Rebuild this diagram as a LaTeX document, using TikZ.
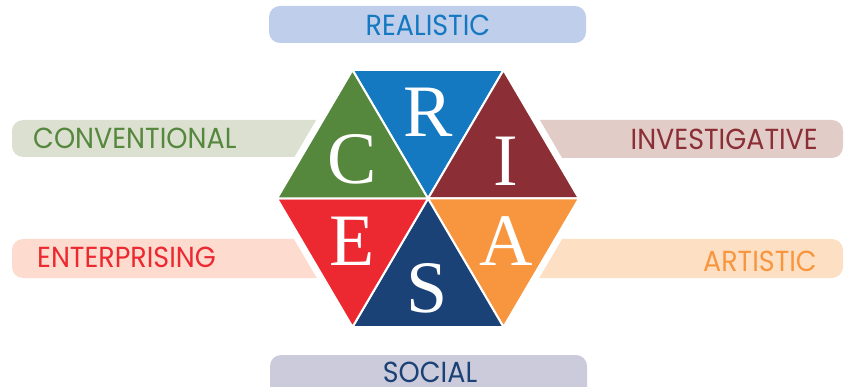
\documentclass[tikz,border=0pt]{standalone}
\usepackage{fontspec}
\newfontfamily\barfont[FakeStretch=0.93]{Poppins}
\newfontfamily\letterfont{Liberation Serif}
\definecolor{rcol}{HTML}{1479C1}
\definecolor{icol}{HTML}{8B2E35}
\definecolor{acol}{HTML}{F7963F}
\definecolor{scol}{HTML}{1B4276}
\definecolor{ecol}{HTML}{EC2930}
\definecolor{ccol}{HTML}{55873D}
\definecolor{rbar}{HTML}{BFCEEA}
\definecolor{cbar}{HTML}{DCE0D1}
\definecolor{ibar}{HTML}{E1CCC7}
\definecolor{ebar}{HTML}{FDDBCE}
\definecolor{abar}{HTML}{FDE0C4}
\definecolor{sbar}{HTML}{CBCBDB}
\tikzset{
  bar/.style={rounded corners=11pt},
  label/.style={inner sep=0pt, font=\barfont\fontsize{29}{29}\selectfont},
  tri/.style={draw=white, line width=2pt, line join=round},
  letter/.style={inner sep=0pt, text=white, font=\letterfont\fontsize{74}{74}\selectfont}
}
\begin{document}
\begin{tikzpicture}[x=1pt,y=-1pt]
\useasboundingbox (0,0) rectangle (845,387);
% bars
\fill[rbar, bar] (269,6) rectangle (586,43);
\fill[sbar, bar] (270,355) rectangle (587,400);
\fill[cbar, bar] (12,120) rectangle (428,157);
\fill[ebar, bar] (12,239) rectangle (428,278);
\fill[ibar, bar] (428,120) rectangle (843,158);
\fill[abar, bar] (428,239) rectangle (843,278);
% labels
\node[label, text=rcol] (realistic) at (428,25) {REALISTIC};
\node[label, text=scol] (social) at (430,372) {SOCIAL};
\node[label, text=ccol, anchor=west] (conventional) at (33,138) {CONVENTIONAL};
\node[label, text=ecol, anchor=west] (enterprising) at (37,257.5) {ENTERPRISING};
\node[label, text=icol, anchor=east] (investigative) at (818,139) {INVESTIGATIVE};
\node[label, text=acol, anchor=east] (artistic) at (817,261) {ARTISTIC};
% hexagon
\coordinate (O) at (428,198.5);
\coordinate (V0) at (579,198.5);
\coordinate (V1) at (503.5,70);
\coordinate (V2) at (352.5,70);
\coordinate (V3) at (277,198.5);
\coordinate (V4) at (352.5,327);
\coordinate (V5) at (503.5,327);
\fill[white] (585.8,198.5) -- (506.9,64.2) -- (349.1,64.2) -- (270.2,198.5) -- (349.1,332.8) -- (506.9,332.8) -- cycle;
\filldraw[tri, fill=rcol] (O) -- (V2) -- (V1) -- cycle;
\filldraw[tri, fill=icol] (O) -- (V1) -- (V0) -- cycle;
\filldraw[tri, fill=acol] (O) -- (V0) -- (V5) -- cycle;
\filldraw[tri, fill=scol] (O) -- (V5) -- (V4) -- cycle;
\filldraw[tri, fill=ecol] (O) -- (V4) -- (V3) -- cycle;
\filldraw[tri, fill=ccol] (O) -- (V3) -- (V2) -- cycle;
% letters
\node[letter] (lr) at (428,112.5) {R};
\node[letter] (lc) at (351.7,159) {C};
\node[letter] (li) at (505.8,160.8) {I};
\node[letter] (le) at (351.7,241.7) {E};
\node[letter] (la) at (506.7,240.8) {A};
\node[letter] (ls) at (427.5,288.3) {S};
\end{tikzpicture}
\end{document}
